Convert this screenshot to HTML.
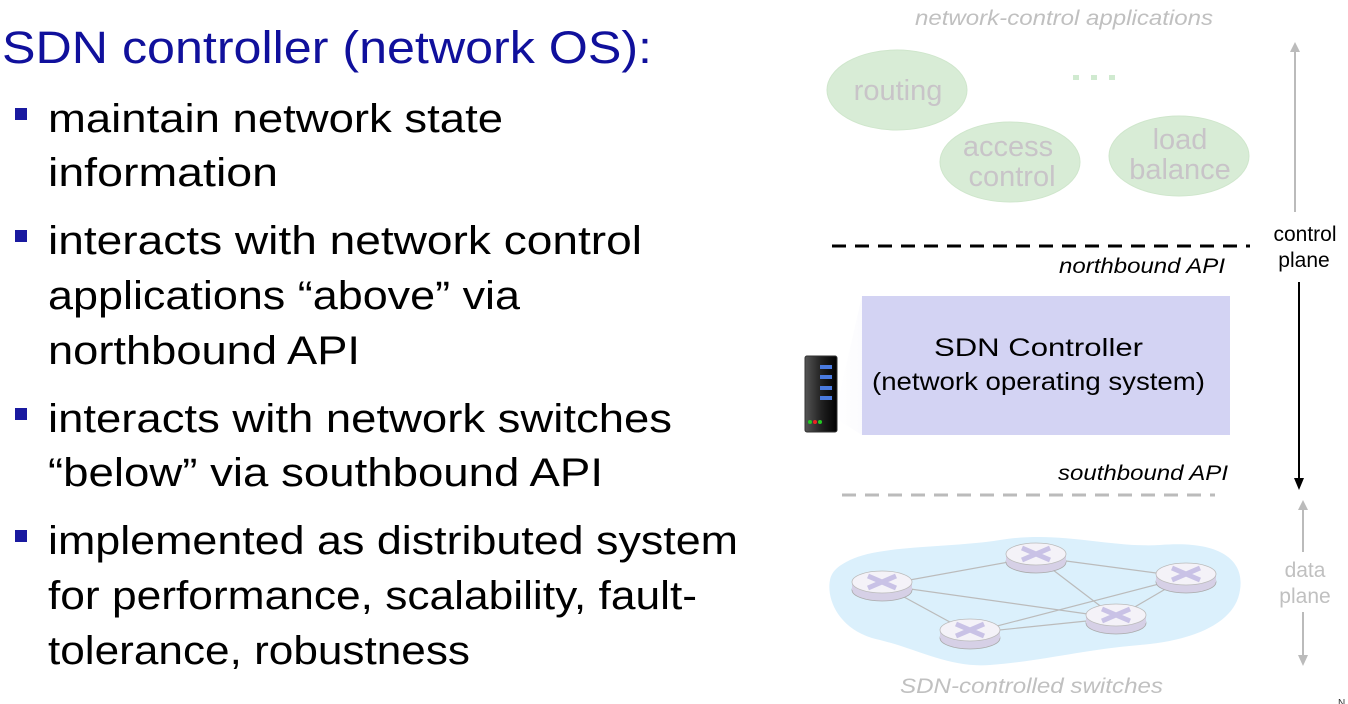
<!DOCTYPE html>
<html><head><meta charset="utf-8"><style>
html,body{margin:0;padding:0;background:#fff;}
svg{display:block;}
</style></head><body>
<svg width="1348" height="704" viewBox="0 0 1348 704" xmlns="http://www.w3.org/2000/svg">
<defs>
<linearGradient id="srv" x1="0" x2="1"><stop offset="0" stop-color="#555"/><stop offset="0.5" stop-color="#222"/><stop offset="1" stop-color="#000"/></linearGradient>
<linearGradient id="beam" x1="0" x2="1"><stop offset="0" stop-color="#fff"/><stop offset="0.6" stop-color="#d3d3f3"/></linearGradient>
<g id="rt"><ellipse cx="0" cy="8" rx="30" ry="11" fill="#d6d0e6" stroke="#aaa" stroke-width="0.8"/><rect x="-30" y="0" width="60" height="8" fill="#d6d0e6"/><ellipse cx="0" cy="0" rx="30" ry="11" fill="#f4f2f8" stroke="#bbb" stroke-width="0.8"/><path d="M-14,-6 L14,6 M-14,6 L14,-6" stroke="#c9c2e6" stroke-width="5"/></g>
</defs>
<g font-family="Liberation Sans, sans-serif">
<text x="2" y="63" font-size="45" fill="#10109c" textLength="650" lengthAdjust="spacingAndGlyphs">SDN controller (network OS):</text>
<g fill="#1a1aa0"><rect x="15" y="108" width="12" height="12"/><rect x="15" y="230" width="12" height="12"/><rect x="15" y="408" width="12" height="12"/><rect x="15" y="530" width="12" height="12"/></g>
<g font-size="40" fill="#000">
<text x="48" y="132" textLength="455" lengthAdjust="spacingAndGlyphs">maintain network state</text>
<text x="48" y="186" textLength="230" lengthAdjust="spacingAndGlyphs">information</text>
<text x="48" y="254" textLength="594" lengthAdjust="spacingAndGlyphs">interacts with network control</text>
<text x="48" y="309" textLength="472" lengthAdjust="spacingAndGlyphs">applications “above” via</text>
<text x="48" y="364" textLength="312" lengthAdjust="spacingAndGlyphs">northbound API</text>
<text x="48" y="432" textLength="624" lengthAdjust="spacingAndGlyphs">interacts with network switches</text>
<text x="48" y="486" textLength="555" lengthAdjust="spacingAndGlyphs">“below” via southbound API</text>
<text x="48" y="554" textLength="690" lengthAdjust="spacingAndGlyphs">implemented as distributed system</text>
<text x="48" y="609" textLength="649" lengthAdjust="spacingAndGlyphs">for performance, scalability, fault-</text>
<text x="48" y="664" textLength="422" lengthAdjust="spacingAndGlyphs">tolerance, robustness</text>
</g>
<text x="915" y="25" font-size="21" font-style="italic" fill="#c0c0c0" textLength="298" lengthAdjust="spacingAndGlyphs">network-control applications</text>
<g fill="#d8ecd6" stroke="#cfe6cc"><ellipse cx="897" cy="90" rx="70" ry="40"/><ellipse cx="1010" cy="162" rx="70" ry="40"/><ellipse cx="1179" cy="156" rx="70" ry="40"/></g>
<g fill="#d0ead0"><rect x="1073" y="75" width="6" height="5"/><rect x="1091" y="75" width="6" height="5"/><rect x="1109" y="75" width="6" height="5"/></g>
<g font-size="29" fill="#c8c4c8" text-anchor="middle"><text x="898" y="100">routing</text><text x="1008" y="156">access</text><text x="1012" y="186">control</text><text x="1180" y="149">load</text><text x="1180" y="179">balance</text></g>
<line x1="832" y1="246" x2="1250" y2="246" stroke="#000" stroke-width="3" stroke-dasharray="14,9"/>
<text x="1059" y="273" font-size="21" font-style="italic" fill="#000" textLength="166" lengthAdjust="spacingAndGlyphs">northbound API</text>
<polygon points="862,296 1230,296 1230,435 862,435 838,420 838,400" fill="url(#beam)"/>
<rect x="862" y="296" width="368" height="139" fill="#d3d3f3"/>
<text x="934" y="356" font-size="25" fill="#000" textLength="209" lengthAdjust="spacingAndGlyphs">SDN Controller</text>
<text x="872" y="390" font-size="25" fill="#000" textLength="333" lengthAdjust="spacingAndGlyphs">(network operating system)</text>
<rect x="805" y="356" width="32" height="76" rx="2" fill="url(#srv)" stroke="#333"/>
<g fill="#4a7be0"><rect x="820" y="365" width="12" height="4"/><rect x="820" y="375" width="12" height="4"/><rect x="820" y="386" width="12" height="4"/><rect x="820" y="396" width="12" height="4"/></g>
<circle cx="810" cy="422" r="2" fill="#2c2"/><circle cx="815" cy="422" r="2" fill="#e22"/><circle cx="820" cy="422" r="2" fill="#2c2"/>
<text x="1058" y="480" font-size="21" font-style="italic" fill="#000" textLength="170" lengthAdjust="spacingAndGlyphs">southbound API</text>
<line x1="842" y1="495" x2="1215" y2="495" stroke="#bbb" stroke-width="3" stroke-dasharray="14,9"/>
<line x1="1295" y1="50" x2="1295" y2="212" stroke="#bbb" stroke-width="2"/><polygon points="1290,52 1300,52 1295,42" fill="#bbb"/>
<text x="1305" y="241" font-size="21" text-anchor="middle" fill="#000">control</text>
<text x="1304" y="267" font-size="21" text-anchor="middle" fill="#000">plane</text>
<line x1="1299" y1="282" x2="1299" y2="480" stroke="#000" stroke-width="2"/><polygon points="1294,478 1304,478 1299,490" fill="#000"/>
<line x1="1303" y1="508" x2="1303" y2="552" stroke="#bbb" stroke-width="2"/><polygon points="1298,510 1308,510 1303,500" fill="#bbb"/>
<text x="1305" y="577" font-size="21" text-anchor="middle" fill="#c0c0c0">data</text>
<text x="1305" y="603" font-size="21" text-anchor="middle" fill="#c0c0c0">plane</text>
<line x1="1303" y1="612" x2="1303" y2="656" stroke="#bbb" stroke-width="2"/><polygon points="1298,655 1308,655 1303,666" fill="#bbb"/>
<path d="M850,560 C880,545 950,548 1000,540 C1060,530 1110,548 1160,545 C1220,540 1245,560 1240,590 C1236,620 1200,640 1140,645 C1080,650 1050,660 990,665 C950,668 920,650 880,640 C840,632 826,600 830,580 C832,570 840,565 850,560 Z" fill="#dbf0fc"/>
<g stroke="#bbb" stroke-width="1.2"><line x1="882" y1="585" x2="1036" y2="557"/><line x1="882" y1="585" x2="1116" y2="618"/><line x1="882" y1="585" x2="970" y2="633"/><line x1="1036" y1="557" x2="1186" y2="577"/><line x1="1036" y1="557" x2="1116" y2="618"/><line x1="1186" y1="577" x2="970" y2="633"/><line x1="1186" y1="577" x2="1116" y2="618"/><line x1="970" y1="633" x2="1116" y2="618"/></g>
<use href="#rt" x="882" y="582"/><use href="#rt" x="1036" y="554"/><use href="#rt" x="1186" y="574"/><use href="#rt" x="1116" y="615"/><use href="#rt" x="970" y="630"/>
<text x="900" y="693" font-size="21" font-style="italic" fill="#c0c0c0" textLength="263" lengthAdjust="spacingAndGlyphs">SDN-controlled switches</text>
<text x="1338" y="706" font-size="10" fill="#333">N</text>
</g>
</svg>
</body></html>
